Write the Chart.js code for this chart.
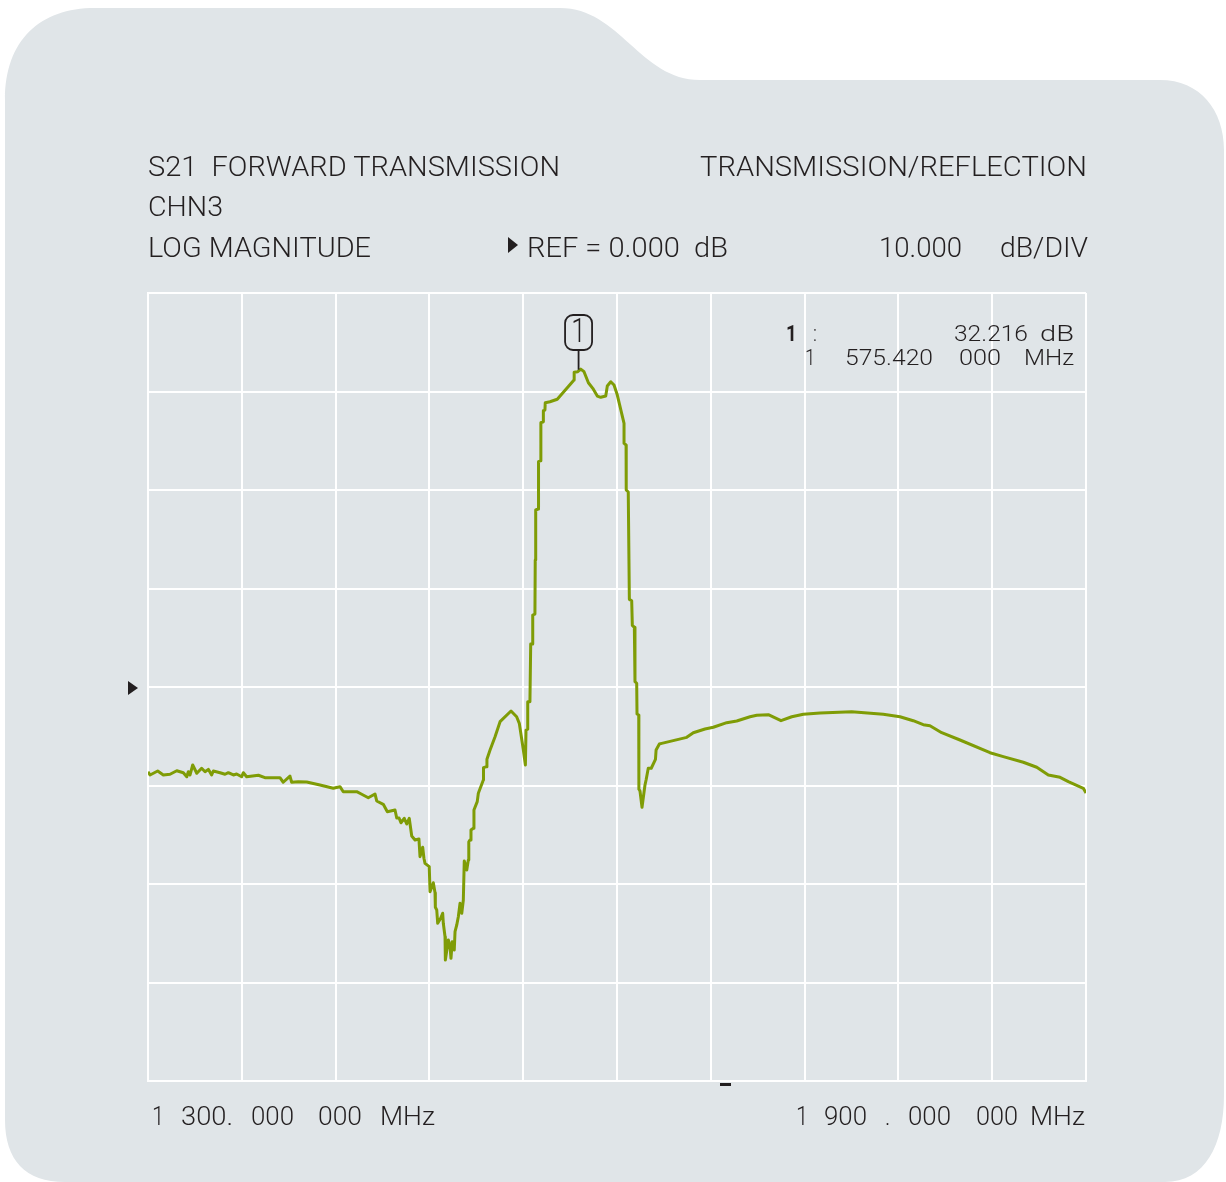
<!DOCTYPE html>
<html><head><meta charset="utf-8">
<script src="https://cdn.jsdelivr.net/npm/chart.js@4.4.1/dist/chart.umd.min.js"></script>
<style>
html,body{margin:0;padding:0;background:#fff;}
#wrap{position:relative;width:1226px;height:1182px;overflow:hidden;}
#bg{position:absolute;left:0;top:0;}
#c{position:absolute;left:0;top:0;}
.t{position:absolute;white-space:pre;font-family:"Roboto","Liberation Sans Narrow","DejaVu Sans Condensed",sans-serif;color:#231f20;transform-origin:0 0;line-height:1;}
</style></head><body>
<div id="wrap">
<svg id="bg" width="1226" height="1182"><path d="M5,100 C5,40 40,8 95,8 L560,8 C620,8 640,80 700,80 L1160,80 C1200,80 1224,110 1224,150 L1224,1095 C1224,1145 1205,1182 1165,1182 L65,1182 C25,1182 5,1160 5,1120 Z" fill="#e0e5e8"/></svg>
<canvas id="c" width="1226" height="1182"></canvas>
<div id="texts"></div>
</div>
<script>
// ---- data ----
const freqMHz = [1300.0,1301.3,1306.2,1309.8,1314.1,1318.4,1322.6,1324.8,1325.8,1326.9,
1328.6,1331.2,1334.3,1336.5,1338.6,1340.7,1341.8,1346.1,1349.3,1351.4,
1354.6,1356.7,1359.9,1361.0,1363.1,1370.6,1374.8,1384.4,1386.5,1390.8,
1391.9,1396.1,1401.5,1410.0,1418.5,1422.8,1424.9,1433.5,1436.7,1440.9,
1445.2,1446.3,1450.5,1453.1,1458.0,1459.1,1460.6,1461.8,1463.9,1465.5,
1467.1,1468.7,1470.8,1473.3,1474.0,1475.7,1476.5,1477.2,1479.9,1480.4,
1482.5,1483.6,1483.8,1484.7,1485.3,1487.2,1488.5,1488.9,1490.0,1490.2,
1492.1,1493.2,1493.8,1494.6,1495.9,1496.4,1497.5,1498.5,1499.6,1500.7,
1501.7,1502.3,1503.9,1504.9,1505.2,1506.0,1506.6,1508.1,1508.5,1510.6,
1511.3,1514.5,1514.6,1516.6,1516.8,1518.8,1522.0,1525.2,1532.2,1535.8,
1537.5,1540.1,1541.4,1541.8,1542.9,1542.9,1544.3,1544.8,1546.1,1546.1,
1547.5,1547.7,1548.0,1549.6,1549.8,1551.2,1551.3,1552.9,1552.9,1553.9,
1554.1,1557.1,1561.8,1572.5,1572.6,1574.9,1576.8,1578.9,1581.7,1584.5,
1587.4,1589.6,1592.8,1593.8,1596.0,1598.1,1600.2,1604.5,1604.5,1605.8,
1605.9,1607.2,1607.9,1609.4,1609.8,1611.1,1611.5,1612.6,1612.8,1613.9,
1614.0,1614.7,1616.0,1617.9,1618.6,1620.0,1621.9,1624.6,1625.0,1627.1,
1628.6,1644.6,1648.8,1656.3,1661.6,1670.2,1676.6,1685.1,1689.4,1696.8,
1704.9,1711.8,1719.2,1729.9,1750.1,1770.3,1781.0,1789.5,1795.9,1800.2,
1807.7,1819.4,1838.6,1847.1,1859.9,1868.5,1875.9,1883.4,1888.7,1898.3,
1900.0];
const s21dB = [-8.60,-8.93,-8.53,-8.93,-8.86,-8.50,-8.70,-9.11,-8.60,-8.93,
-7.92,-8.76,-8.25,-8.60,-8.36,-8.93,-8.53,-8.70,-8.86,-8.70,
-8.93,-8.83,-9.11,-8.70,-9.11,-8.96,-9.21,-9.21,-9.67,-9.04,
-9.67,-9.61,-9.64,-9.95,-10.28,-10.12,-10.63,-10.63,-10.89,-11.24,
-10.86,-11.57,-11.91,-12.66,-12.49,-13.30,-13.30,-13.78,-13.33,-13.91,
-13.33,-15.13,-15.53,-15.43,-17.23,-16.27,-17.39,-17.90,-18.24,-20.78,
-19.87,-20.88,-22.36,-22.64,-23.99,-23.48,-22.97,-23.99,-25.35,-27.71,
-25.68,-26.36,-27.54,-25.86,-26.70,-24.84,-24.16,-23.32,-21.96,-22.97,
-21.62,-17.66,-18.58,-17.56,-15.71,-15.53,-14.52,-14.34,-12.49,-11.64,
-10.79,-9.44,-8.19,-8.09,-7.34,-6.40,-5.05,-3.52,-2.44,-3.02,
-3.69,-6.40,-7.92,-4.37,-4.29,-1.49,-1.49,4.37,4.37,7.31,
7.41,12.89,17.97,18.07,22.87,22.97,26.83,26.93,28.05,28.12,
28.86,28.96,29.21,31.17,31.95,32.01,32.28,32.01,30.89,30.32,
29.54,29.41,29.54,30.56,30.99,30.66,29.64,26.77,24.74,24.57,
20.00,19.80,8.90,8.76,6.26,6.06,0.54,0.38,-2.74,-2.84,
-10.38,-10.56,-12.21,-9.95,-9.44,-8.25,-8.25,-7.34,-6.40,-5.79,
-5.72,-5.11,-4.64,-4.26,-4.09,-3.62,-3.45,-3.02,-2.87,-2.81,
-3.42,-3.02,-2.77,-2.64,-2.51,-2.77,-3.02,-3.42,-3.83,-3.93,
-4.64,-5.38,-6.67,-7.07,-7.64,-8.15,-8.93,-9.17,-9.61,-10.28,
-10.76];
const startFreq = 1300, stopFreq = 1900, freqDiv = 60;
const refLevel = 0, dbPerDiv = 10, divisionsY = 8;
const markerFreq = 1575.42, markerDb = 32.216, markerId = "1";
const startLabel = ["1","300.","000","000","MHz"];
const stopLabel = ["1","900",".","000","000","MHz"];
const markerLine1 = ["1",":","32.216","dB"];
const markerLine2 = ["1","575.420","000","MHz"];
const headerLabels = ["S21  FORWARD TRANSMISSION","TRANSMISSION/REFLECTION","CHN3","LOG MAGNITUDE","REF = 0.000  dB","10.000","dB/DIV"];

// ---- text layout: [text, left, baseline, width (0 = default scale), size, weight] ----
const H = 27, M = 22, B = 26, W = 300;
const layout = [
 [headerLabels[0],148,176,412,H,W],
 [headerLabels[1],700,176,387,H,W],
 [headerLabels[2],148,216,75,H,W],
 [headerLabels[3],148,257,223,H,W],
 [headerLabels[4],527,257,201,H,W],
 [headerLabels[5],879,257,83,H,W],
 [headerLabels[6],1000,257,88,H,W],
 [markerLine1[0],786,341,0,M,700],
 [markerLine1[1],813,341,0,M,W],
 [markerLine1[2],954,341,74,M,W],
 [markerLine1[3],1040,341,34,M,W],
 [markerLine2[0],805,365,0,M,W],
 [markerLine2[1],845,365,88,M,W],
 [markerLine2[2],959,365,42,M,W],
 [markerLine2[3],1024,365,50,M,W],
 [startLabel[0],152,1125,0,B,W],
 [startLabel[1],181,1125,52,B,W],
 [startLabel[2],251,1125,43,B,W],
 [startLabel[3],318,1125,44,B,W],
 [startLabel[4],380,1125,55,B,W],
 [stopLabel[0],796,1125,0,B,W],
 [stopLabel[1],824,1125,43,B,W],
 [stopLabel[2],885,1125,0,B,W],
 [stopLabel[3],908,1125,43,B,W],
 [stopLabel[4],976,1125,42,B,W],
 [stopLabel[5],1030,1125,55,B,W]
];
const host = document.getElementById('texts');
layout.forEach(([txt,l,bl,w,sz,wt])=>{
  const s = document.createElement('span');
  s.className='t'; s.style.fontSize=sz+'px'; s.style.fontWeight=wt;
  s.textContent = txt;
  const mk = document.createElement('span');
  mk.style.cssText='display:inline-block;width:0;height:0;';
  s.appendChild(mk);
  s.style.left=l+'px'; s.style.top='0px';
  host.appendChild(s);
  const r = s.getBoundingClientRect();
  const off = mk.getBoundingClientRect().top - r.top;
  s.style.top = (bl-off)+'px';
  const k = w ? w/r.width : 0.85;
  s.style.transform = 'scaleX('+k+')';
});

// ---- chart ----
const traceColor = '#7f9c06';
const overlay = {
  id:'overlay',
  afterDatasetsDraw(chart){
    const {ctx, chartArea:a, scales:{x,y}} = chart;
    ctx.save();
    ctx.fillStyle='#231f20';
    const y0 = y.getPixelForValue(refLevel);
    ctx.beginPath(); ctx.moveTo(a.left-10,y0+1); ctx.lineTo(a.left-20,y0-6); ctx.lineTo(a.left-20,y0+8); ctx.closePath(); ctx.fill();
    ctx.beginPath(); ctx.moveTo(518,245); ctx.lineTo(508,237); ctx.lineTo(508,253); ctx.closePath(); ctx.fill();
    ctx.fillRect(720,a.bottom+2,11,3);
    const mx = x.getPixelForValue(markerFreq), my = y.getPixelForValue(markerDb);
    ctx.strokeStyle='#231f20'; ctx.lineWidth=1.8;
    const bx=mx-13.5, by=a.top+22, bw=27, bh=35;
    ctx.beginPath(); ctx.roundRect(bx,by,bw,bh,8); ctx.stroke();
    ctx.beginPath(); ctx.moveTo(mx,by+bh); ctx.lineTo(mx,my); ctx.stroke();
    ctx.save();
    ctx.translate(mx, by+bh/2+1); ctx.scale(0.8,1);
    ctx.font='300 33px "Roboto","DejaVu Sans Condensed",sans-serif';
    ctx.textAlign='center'; ctx.textBaseline='middle';
    ctx.fillText(markerId,0,0);
    ctx.restore();
    ctx.restore();
  }
};
new Chart(document.getElementById('c'),{
  type:'line',
  data:{datasets:[{data:freqMHz.map((f,i)=>({x:f,y:s21dB[i]})),borderColor:traceColor,borderWidth:3,pointRadius:0,tension:0,fill:false,borderJoinStyle:'round'}]},
  options:{
    responsive:false, animation:false, devicePixelRatio:1,
    layout:{padding:{left:148,top:293,right:140,bottom:101}},
    plugins:{legend:{display:false},tooltip:{enabled:false}},
    scales:{
      x:{type:'linear',min:startFreq,max:stopFreq,ticks:{display:false,stepSize:freqDiv},
         grid:{color:'#ffffff',lineWidth:2,drawTicks:false},border:{display:true,color:'#ffffff',width:2},
         afterFit:s=>{s.height=0;}},
      y:{type:'linear',min:refLevel-dbPerDiv*divisionsY/2,max:refLevel+dbPerDiv*divisionsY/2,ticks:{display:false,stepSize:dbPerDiv},
         grid:{color:'#ffffff',lineWidth:2,drawTicks:false},border:{display:true,color:'#ffffff',width:2},
         afterFit:s=>{s.width=0;}}
    }
  },
  plugins:[overlay]
});
</script>
</body></html>
